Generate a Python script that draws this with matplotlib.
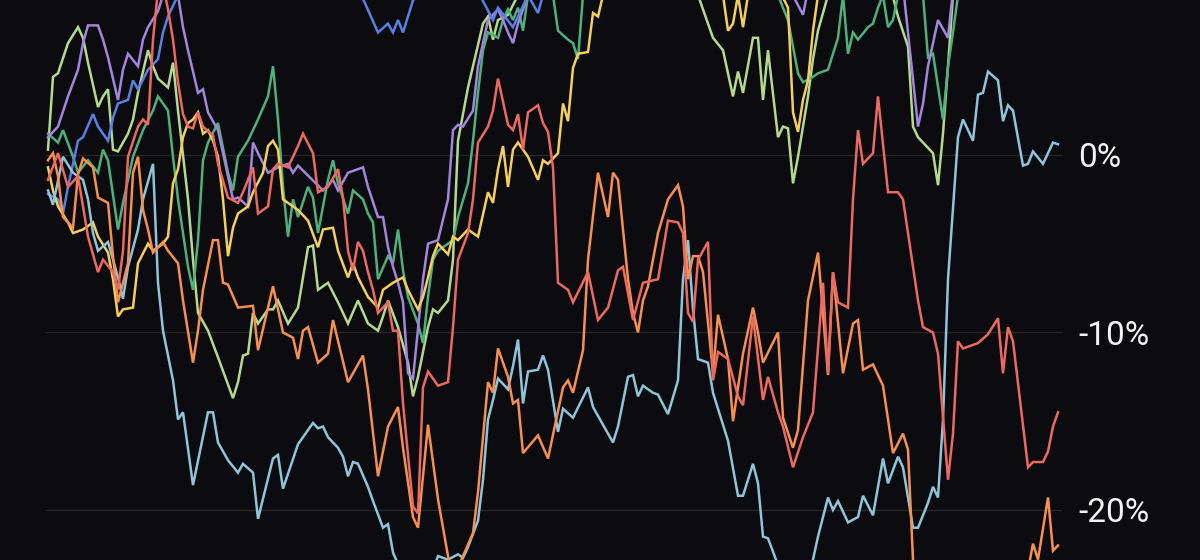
import matplotlib
matplotlib.use("Agg")
import matplotlib.pyplot as plt

# ---- data: trading-day index and % change ----
lightblue_days = [0,1,3,5,7,8,9,10,12,14,15,16,18,19,21,22,23,25,26,27,29,32,33,34,36,38,39,41,42,45,46,47,50,53,54,55,56,58,59,60,61,62,64,65,67,68,69,71,74,77,78,80,82,83,84,86,87,88,89,90,92,93,94,95,96,98,99,100,102,103,105,108,109,111,113,114,116,117,118,119,121,122,124,126,127,128,129,130,132,133,136,138,139,141,142,143,144,146,150,153,154,156,157,158,160,162,163,165,167,168,170,171,173,174,176,177,178,179,180,182,183,185,186,187,188,190,191,192,193,195,196,197,199,201,202]
lightblue_vals = [-2.0,-2.8,-0.1,-1.0,-1.4,-2.5,-4.4,-5.4,-4.9,-6.9,-8.1,-6.3,-4.2,-2.5,-0.5,-7.2,-9.9,-12.7,-14.9,-14.5,-18.6,-14.5,-14.5,-16.2,-17.2,-17.9,-17.4,-17.9,-20.5,-17.1,-16.9,-18.8,-16.3,-15.1,-15.4,-15.3,-15.9,-16.5,-17.0,-18.1,-17.3,-17.4,-18.7,-19.5,-21.0,-20.8,-22.4,-23.7,-24.2,-23.4,-22.6,-22.8,-22.5,-22.7,-22.1,-20.6,-18.3,-14.9,-13.8,-12.6,-13.2,-11.9,-10.4,-14.0,-12.2,-12.1,-11.3,-12.1,-15.6,-14.3,-14.8,-13.1,-14.2,-15.2,-16.2,-15.3,-12.5,-12.4,-13.6,-13.0,-13.4,-13.5,-14.6,-12.7,-7.0,-4.8,-8.7,-11.5,-11.7,-13.4,-16.1,-19.2,-19.2,-17.4,-18.5,-21.5,-21.6,-23.1,-24.5,-22.8,-21.5,-19.3,-20.0,-19.5,-20.7,-20.4,-19.2,-20.3,-17.1,-18.5,-17.0,-17.6,-21.0,-21.0,-19.6,-18.7,-19.3,-14.9,-7.0,1.0,2.0,0.8,3.4,3.5,4.7,4.2,1.9,2.8,2.5,-0.6,-0.5,0.2,-0.5,0.7,0.6]

blue_days = [0,2,3,4,6,7,9,10,12,13,14,16,17,18,20,22,23,24,26,30,40,50,60,62,63,66,68,69,70,71,73,76,82,86,89,90,93,94,96,98,99,105,140,202]
blue_vals = [-2.2,-2.5,-3.3,-1.8,0.8,1.0,2.3,1.6,0.8,2.1,2.9,3.1,4.2,3.7,4.8,5.4,6.9,7.8,9.0,10.5,11.0,11.5,10.5,9.5,8.8,6.9,7.4,6.9,7.6,6.9,8.7,10.0,10.0,9.2,7.6,8.3,7.2,7.8,9.0,8.0,9.0,11.0,12.0,12.0]

purple_days = [0,2,4,6,7,8,10,11,12,14,15,16,18,19,20,22,23,25,26,27,28,30,31,32,34,36,37,38,40,41,42,44,46,48,49,50,55,57,58,60,63,64,66,67,68,69,70,71,72,73,75,76,78,80,81,82,83,85,86,87,88,90,91,92,93,94,96,100,148,151,152,160,171,172,174,175,176,177,178,180,181,190,202]
purple_vals = [1.0,1.6,3.3,4.8,6.3,7.3,7.3,6.5,5.5,3.1,4.8,5.7,5.0,6.5,7.2,8.1,9.0,9.5,9.0,7.2,5.9,3.5,3.7,2.4,1.4,-1.2,-2.5,-2.4,-2.9,0.7,0.1,-1.0,-0.7,-0.5,-1.0,-0.6,-2.0,-1.4,-2.0,-1.0,-0.7,-1.8,-3.5,-3.5,-5.2,-6.3,-7.2,-8.3,-12.3,-12.6,-7.0,-5.0,-4.8,-2.5,1.4,1.7,1.6,2.5,5.0,6.3,7.6,8.2,7.6,6.9,6.3,7.4,9.0,10.5,9.5,7.9,9.3,11.0,9.5,6.9,1.6,2.9,5.0,6.3,7.6,6.6,9.3,11.0,11.0]

green_days = [0,2,3,5,6,8,10,11,12,14,15,16,17,19,21,22,24,25,26,28,29,30,31,32,34,36,37,38,40,42,44,45,46,47,48,49,50,52,53,54,56,57,58,60,61,63,64,65,66,68,69,70,71,72,74,75,76,77,78,81,82,84,85,86,87,88,90,91,92,93,94,95,96,100,101,102,104,105,106,107,115,146,148,150,151,153,154,156,157,158,159,160,161,162,164,165,166,167,168,169,170,173,175,176,177,179,180,181,182,190,202]
green_vals = [1.2,0.7,1.4,-0.1,-1.0,-0.3,-1.0,0.3,-0.3,-4.2,-2.7,-1.4,-0.1,1.4,2.5,3.3,2.5,-0.1,-2.5,-6.3,-7.6,-4.8,-0.3,0.7,1.8,-1.0,-2.0,-0.1,0.8,2.0,3.3,5.0,2.0,-1.8,-4.6,-2.5,-3.5,-1.8,-2.4,-4.4,-1.4,-0.3,-1.6,-3.3,-2.0,-2.5,-3.3,-3.8,-7.0,-5.7,-6.1,-4.2,-6.5,-8.0,-9.5,-10.6,-8.0,-5.9,-5.4,-4.8,-3.5,-1.6,0.8,3.5,5.9,6.9,6.6,7.6,8.2,7.6,8.3,7.0,9.0,10.0,9.0,7.0,6.5,6.3,5.4,9.0,10.5,9.0,7.6,4.6,4.1,4.4,4.6,4.8,5.7,6.6,9.0,5.7,6.9,6.5,7.2,7.4,8.3,9.0,7.2,7.6,9.0,10.0,9.0,5.5,5.7,2.0,5.0,6.9,9.0,11.0,11.0]

lime_days = [0,1,2,4,6,7,8,10,11,12,13,14,16,17,18,20,21,22,24,25,26,28,29,30,32,34,37,38,39,40,41,42,44,45,46,48,50,52,53,54,56,58,60,62,64,66,67,68,70,72,73,74,76,77,78,80,81,82,84,85,87,88,89,90,92,94,100,130,133,135,137,138,139,141,142,143,144,146,147,148,149,150,152,153,154,156,160,168,170,172,173,174,177,178,179,180,181,190,202]
lime_vals = [0.3,4.4,4.6,6.3,7.2,6.6,5.2,2.7,3.3,3.7,0.3,0.2,1.2,2.0,3.5,5.9,5.0,4.3,3.8,5.2,2.5,-2.5,-5.9,-8.9,-9.9,-11.4,-13.7,-12.8,-11.3,-11.2,-8.9,-9.5,-8.7,-8.7,-8.2,-9.5,-8.6,-5.2,-5.1,-7.6,-7.2,-8.3,-9.5,-8.2,-9.5,-9.9,-9.1,-8.2,-9.7,-11.7,-13.6,-12.5,-9.7,-8.7,-8.9,-8.2,-5.9,0.8,3.8,5.0,7.4,7.8,6.5,7.6,7.9,9.0,10.0,9.0,6.6,5.9,3.3,4.7,3.5,6.6,6.6,3.1,5.9,1.0,1.6,1.5,-1.6,-0.1,3.3,5.4,7.0,9.0,10.0,10.0,7.8,6.1,1.6,1.0,0.1,-1.7,1.2,5.0,9.0,11.0,11.0]

yellow_days = [0,1,2,4,5,7,9,10,12,13,14,15,17,18,20,21,23,24,25,26,27,28,29,30,31,32,33,34,35,36,37,38,40,41,43,44,45,46,47,49,50,52,54,55,57,58,60,61,62,64,66,67,69,71,72,74,75,76,77,78,80,81,82,84,86,88,89,90,91,92,93,94,96,98,99,100,102,103,104,105,106,108,109,110,111,115,125,135,136,137,138,139,140,145,148,149,150,151,152,153,154,165,202]
yellow_vals = [-0.7,-2.0,-2.9,-3.8,-4.4,-4.2,-3.8,-4.6,-5.5,-7.0,-9.1,-8.7,-8.6,-6.1,-5.0,-5.4,-5.0,-4.6,-1.6,-0.8,1.0,1.8,2.0,2.4,1.2,1.4,0.8,-0.1,-2.5,-5.7,-4.1,-3.3,-2.9,-2.1,-1.0,0.5,0.8,0.3,-2.5,-2.9,-3.1,-3.7,-5.2,-4.2,-4.1,-5.4,-6.9,-6.1,-6.9,-8.0,-8.6,-7.6,-7.2,-6.9,-7.6,-8.7,-8.0,-6.9,-5.7,-5.0,-5.6,-4.6,-4.8,-4.2,-4.6,-2.1,-2.7,-0.8,0.5,-1.8,0.3,0.7,-0.1,-1.4,-0.3,-0.5,0.1,2.9,1.9,4.9,5.7,5.8,8.0,7.8,9.0,10.0,10.0,9.0,7.0,7.4,9.0,7.2,9.0,10.0,8.3,2.4,1.3,3.1,4.2,7.0,9.0,10.0,11.0]

red_days = [0,2,4,6,8,10,11,13,14,15,16,18,19,20,21,22,23,24,25,26,27,28,29,30,31,33,34,36,38,39,41,42,44,45,46,48,50,51,53,54,56,58,59,60,61,62,63,64,65,66,68,69,70,71,73,74,75,76,78,80,81,82,84,85,86,88,89,90,92,93,94,95,96,98,99,100,101,102,104,105,108,110,112,114,115,117,119,122,124,126,127,128,129,130,132,133,134,136,138,139,141,143,144,146,147,149,151,153,155,156,157,158,160,161,162,163,165,166,168,170,171,174,175,177,178,180,181,182,183,186,188,190,191,192,193,196,197,199,200,201,202]
red_vals = [-1.4,0.1,-1.8,-1.2,-4.6,-6.6,-5.9,-6.6,-7.6,-5.4,-0.1,1.6,2.0,1.7,6.5,9.3,9.6,8.2,6.5,4.1,2.3,1.6,1.5,2.4,1.6,1.1,-0.5,-2.4,-2.7,-2.1,-0.7,-3.3,-2.9,-0.8,-0.5,-0.7,0.5,1.2,0.1,-2.1,-1.8,-0.8,-2.4,-5.4,-6.5,-4.9,-5.4,-6.6,-7.6,-8.9,-8.3,-9.9,-9.9,-14.0,-19.8,-20.2,-13.1,-12.2,-13.0,-12.8,-9.7,-5.9,-4.4,-2.5,0.7,1.6,2.5,4.3,1.7,1.4,2.3,0.3,2.4,2.8,1.8,1.3,-0.7,-7.2,-7.6,-8.3,-6.6,-9.3,-8.6,-6.5,-6.3,-9.3,-7.2,-7.0,-3.7,-3.8,-4.4,-8.9,-9.4,-5.9,-4.9,-12.7,-11.1,-11.5,-13.6,-14.1,-9.1,-13.8,-12.5,-14.5,-15.3,-17.6,-15.9,-14.5,-7.2,-12.3,-6.6,-8.3,-8.6,-2.5,1.4,-0.5,0.1,3.3,-2.1,-2.1,-2.5,-8.2,-9.7,-10.0,-11.2,-18.3,-15.7,-10.5,-10.9,-10.6,-10.1,-9.2,-12.3,-9.7,-10.5,-17.6,-17.3,-17.3,-16.7,-15.3,-14.5]

orange_days = [0,1,2,3,5,6,7,9,10,12,13,14,16,17,18,19,20,21,23,24,26,27,29,30,31,33,34,35,36,38,41,42,45,47,49,50,51,52,54,56,57,60,63,64,66,68,70,71,73,74,76,78,80,81,83,85,86,88,89,90,92,93,94,95,98,100,103,104,105,107,108,110,112,113,114,116,117,118,119,120,122,124,126,127,128,129,130,131,133,134,136,137,139,141,142,143,146,147,149,150,152,154,156,157,159,161,162,163,165,167,169,171,172,173,174,185,196,197,198,200,201,202]
orange_vals = [-0.3,0.1,-1.2,-3.5,-4.1,-1.1,-0.2,-0.7,-2.4,-2.7,-5.7,-8.3,-6.1,-1.0,-0.1,-3.1,-4.2,-5.5,-4.9,-5.4,-6.1,-8.2,-11.7,-9.9,-7.6,-4.8,-4.8,-7.2,-7.3,-8.6,-8.5,-11.0,-7.4,-10.0,-10.3,-11.5,-9.9,-9.7,-11.7,-11.2,-9.3,-12.8,-11.3,-13.2,-18.1,-15.3,-14.2,-16.5,-20.4,-21.0,-15.2,-19.4,-22.6,-23.9,-22.6,-21.3,-19.0,-12.8,-13.4,-10.9,-12.5,-14.0,-13.8,-16.8,-15.8,-17.1,-13.1,-12.7,-13.4,-11.0,-5.9,-1.0,-3.5,-1.0,-1.4,-7.0,-8.9,-10.0,-8.2,-7.4,-4.4,-2.5,-1.7,-2.9,-7.0,-5.7,-5.7,-6.6,-12.3,-9.0,-11.5,-15.0,-11.2,-8.6,-10.0,-11.7,-10.0,-14.8,-16.5,-15.5,-8.2,-5.5,-12.4,-6.6,-12.3,-9.5,-9.3,-12.1,-11.8,-13.0,-16.8,-15.7,-16.6,-22.8,-25.1,-26.0,-23.4,-21.9,-22.8,-19.3,-22.3,-22.0]

grid_levels = [0, -10, -20]
grid_labels = ["0%", "-10%", "-20%"]

colors = {
    "lightblue": "#8fc4d9",
    "blue": "#5a80e2",
    "purple": "#a285dc",
    "green": "#4fb07c",
    "lime": "#b5d98d",
    "yellow": "#f3cf60",
    "red": "#ea6a62",
    "orange": "#f58f52",
}

BG = "#0c0b0f"
fig = plt.figure(figsize=(12, 5.6), dpi=100, facecolor=BG)
ax = fig.add_axes([0, 0, 1, 1])
ax.set_facecolor(BG)

# pixel mapping: x = 48 + 5*day ; y = 155 - 17.75*pct
ax.set_xlim(-9.6, 230.4)
ax.set_ylim(-22.82, 8.73)
ax.axis("off")

for lvl in grid_levels:
    ax.plot([-0.5, 202.5], [lvl, lvl], color="#262628", lw=1.0, zorder=0)

lw = 1.8
series = [
    (lime_days, lime_vals, "lime"),
    (green_days, green_vals, "green"),
    (purple_days, purple_vals, "purple"),
    (blue_days, blue_vals, "blue"),
    (yellow_days, yellow_vals, "yellow"),
    (lightblue_days, lightblue_vals, "lightblue"),
    (orange_days, orange_vals, "orange"),
    (red_days, red_vals, "red"),
]
for d, v, c in series:
    ax.plot(d, v, color=colors[c], lw=lw, solid_joinstyle="miter", zorder=2)

for lvl, lab in zip(grid_levels, grid_labels):
    ax.text(206, lvl - 0.68, lab, color="#f2f2f2", fontsize=24,
            family=["Roboto", "DejaVu Sans"], ha="left", va="baseline")

fig.savefig("out.png", dpi=100, facecolor=BG)
